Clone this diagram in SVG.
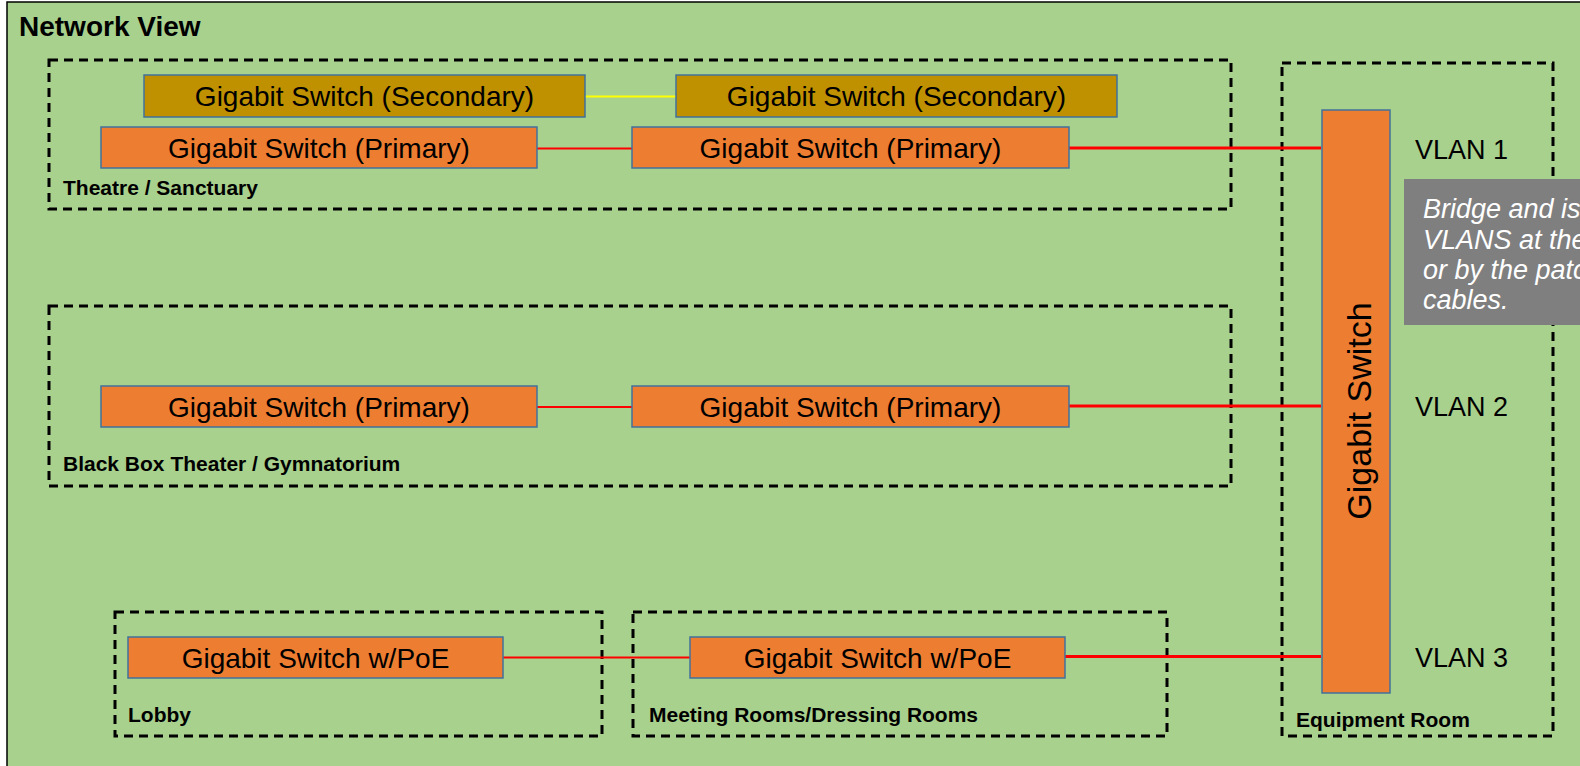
<svg xmlns="http://www.w3.org/2000/svg" width="1580" height="766" viewBox="0 0 1580 766">
  <style>
    .zone { fill: none; stroke: #000; stroke-width: 3; stroke-dasharray: 9 6; }
    .sw { fill: #ED7D31; stroke: #41719C; stroke-width: 1.5; }
    .sec { fill: #BF9000; stroke: #41719C; stroke-width: 1.5; }
    .swt { font-family: "Liberation Sans", Arial, sans-serif; font-size: 28px; fill: #000; text-anchor: middle; }
    .zl { font-family: "Liberation Sans", Arial, sans-serif; font-size: 21px; font-weight: bold; fill: #000; }
    .vl { font-family: "Liberation Sans", Arial, sans-serif; font-size: 27px; fill: #000; }
    .note { font-family: "Liberation Sans", Arial, sans-serif; font-size: 27px; font-style: italic; fill: #fff; }
    .red { stroke: #FF0000; fill: none; }
  </style>
  <rect x="0" y="0" width="1580" height="766" fill="#fff"/>
  <rect id="background" x="7" y="2" width="1600" height="800" fill="#A9D18E" stroke="#000" stroke-width="1.5"/>
  <text x="19" y="36" font-family="Liberation Sans, Arial, sans-serif" font-size="28" font-weight="bold" fill="#000">Network View</text>

  <g id="zone-theatre">
    <rect class="zone" x="49" y="60" width="1182" height="149"/>
    <text class="zl" x="63" y="195">Theatre / Sanctuary</text>
  </g>
  <g id="zone-blackbox">
    <rect class="zone" x="49" y="306" width="1182" height="180"/>
    <text class="zl" x="63" y="471">Black Box Theater / Gymnatorium</text>
  </g>
  <g id="zone-lobby">
    <rect class="zone" x="115" y="612" width="487" height="124"/>
    <text class="zl" x="128" y="722">Lobby</text>
  </g>
  <g id="zone-meeting">
    <rect class="zone" x="633" y="612" width="534" height="124"/>
    <text class="zl" x="649" y="722">Meeting Rooms/Dressing Rooms</text>
  </g>
  <g id="zone-equipment">
    <rect class="zone" x="1282" y="63" width="271" height="673"/>
    <text class="zl" x="1296" y="727">Equipment Room</text>
  </g>

  <g id="connectors">
    <line x1="585" y1="96.5" x2="676" y2="96.5" stroke="#FFFF00" stroke-width="2"/>
    <line class="red" x1="537" y1="148.5" x2="632" y2="148.5" stroke-width="2"/>
    <line class="red" x1="1069" y1="148" x2="1321" y2="148" stroke-width="3"/>
    <line class="red" x1="537" y1="407" x2="632" y2="407" stroke-width="2"/>
    <line class="red" x1="1069" y1="406" x2="1321" y2="406" stroke-width="3"/>
    <line class="red" x1="503" y1="657.5" x2="690" y2="657.5" stroke-width="2"/>
    <line class="red" x1="1065" y1="656.5" x2="1321" y2="656.5" stroke-width="3"/>
  </g>

  <g id="sw-sec-1">
    <rect class="sec" x="144" y="75" width="441" height="42"/>
    <text class="swt" x="364.5" y="106">Gigabit Switch (Secondary)</text>
  </g>
  <g id="sw-sec-2">
    <rect class="sec" x="676" y="75" width="441" height="42"/>
    <text class="swt" x="896.5" y="106">Gigabit Switch (Secondary)</text>
  </g>
  <g id="sw-pri-1">
    <rect class="sw" x="101" y="127" width="436" height="41"/>
    <text class="swt" x="319" y="158">Gigabit Switch (Primary)</text>
  </g>
  <g id="sw-pri-2">
    <rect class="sw" x="632" y="127" width="437" height="41"/>
    <text class="swt" x="850.5" y="158">Gigabit Switch (Primary)</text>
  </g>
  <g id="sw-pri-3">
    <rect class="sw" x="101" y="386" width="436" height="41"/>
    <text class="swt" x="319" y="417">Gigabit Switch (Primary)</text>
  </g>
  <g id="sw-pri-4">
    <rect class="sw" x="632" y="386" width="437" height="41"/>
    <text class="swt" x="850.5" y="417">Gigabit Switch (Primary)</text>
  </g>
  <g id="sw-poe-1">
    <rect class="sw" x="128" y="637" width="375" height="41"/>
    <text class="swt" x="315.5" y="668">Gigabit Switch w/PoE</text>
  </g>
  <g id="sw-poe-2">
    <rect class="sw" x="690" y="637" width="375" height="41"/>
    <text class="swt" x="877.5" y="668">Gigabit Switch w/PoE</text>
  </g>
  <g id="sw-core">
    <rect class="sw" x="1322" y="110" width="68" height="583"/>
    <text class="swt" transform="translate(1371,411) rotate(-90)" style="font-size:34px">Gigabit Switch</text>
  </g>

  <g id="vlan-labels">
    <text class="vl" x="1415" y="159">VLAN 1</text>
    <text class="vl" x="1415" y="416">VLAN 2</text>
    <text class="vl" x="1415" y="667">VLAN 3</text>
  </g>

  <g id="note">
    <rect x="1404" y="179" width="200" height="146" fill="#7F7F7F"/>
    <text class="note" x="1423" y="218">Bridge and isolate</text>
    <text class="note" x="1423" y="249">VLANS at the</text>
    <text class="note" x="1423" y="279">or by the patch</text>
    <text class="note" x="1423" y="309">cables.</text>
  </g>
</svg>
